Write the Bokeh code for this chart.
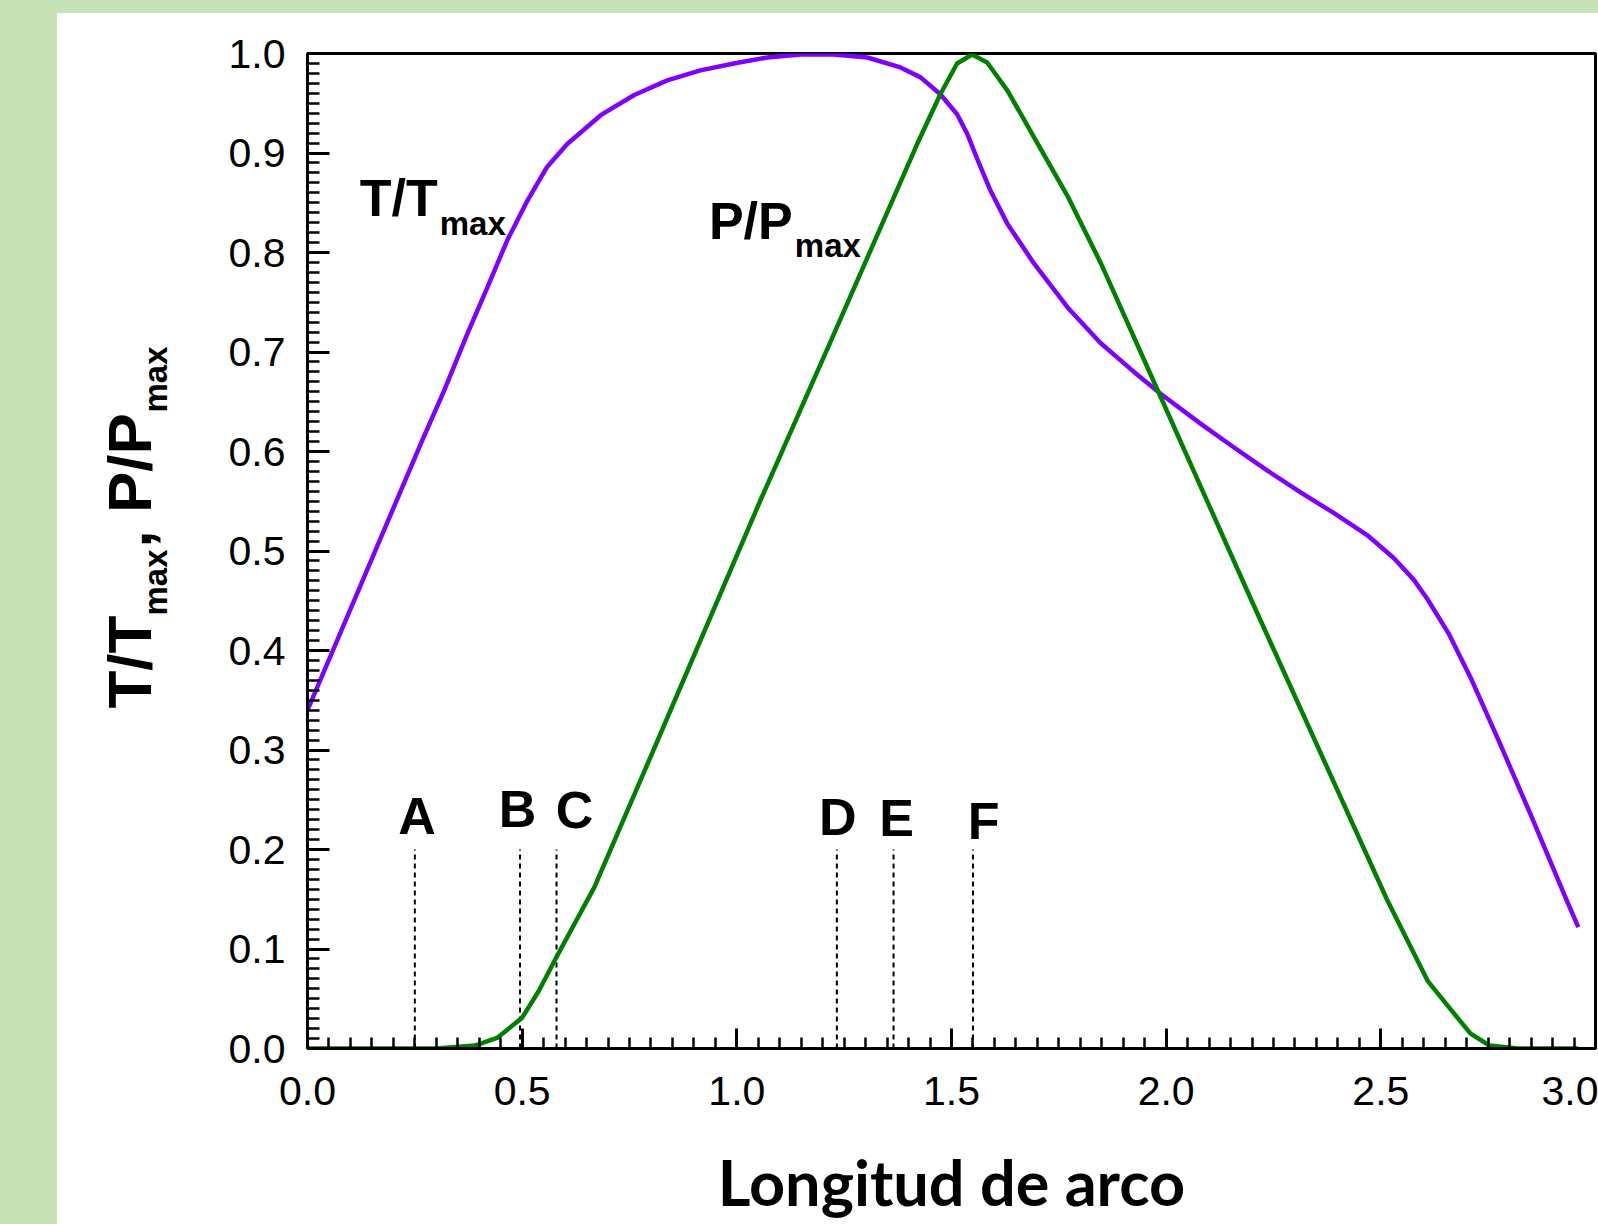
import math
from bokeh.plotting import figure
from bokeh.models import Range1d, SingleIntervalTicker, PrintfTickFormatter, Spacer
from bokeh.layouts import row, column
from bokeh.core.properties import value
from bokeh.embed import file_html
from bokeh.resources import INLINE

# ---------------- data ----------------
# T/Tmax curve (purple)
t_x = [0.000, 0.267, 0.318, 0.372, 0.419, 0.465, 0.512, 0.558, 0.605, 0.683,
       0.760, 0.838, 0.915, 0.993, 1.071, 1.148, 1.226, 1.304, 1.381, 1.428,
       1.474, 1.513, 1.537, 1.560, 1.591, 1.630, 1.692, 1.770, 1.847, 1.925,
       1.987, 2.080, 2.158, 2.235, 2.313, 2.391, 2.468, 2.530, 2.577, 2.608,
       2.658, 2.712, 2.774, 2.852, 2.930, 2.960]
t_y = [0.340, 0.611, 0.661, 0.718, 0.765, 0.812, 0.852, 0.886, 0.909, 0.938,
       0.958, 0.973, 0.983, 0.990, 0.996, 0.999, 0.999, 0.996, 0.986, 0.976,
       0.959, 0.939, 0.919, 0.894, 0.862, 0.829, 0.789, 0.745, 0.709, 0.680,
       0.658, 0.628, 0.604, 0.581, 0.559, 0.538, 0.516, 0.493, 0.471, 0.452,
       0.417, 0.370, 0.310, 0.232, 0.152, 0.122]

# P/Pmax curve (green)
p_x = [0.000, 0.300, 0.390, 0.443, 0.500, 0.539, 0.580, 0.668, 0.806, 1.055,
       1.226, 1.420, 1.474, 1.513, 1.548, 1.583, 1.630, 1.692, 1.770, 1.847,
       1.987, 2.197, 2.514, 2.609, 2.665, 2.709, 2.753, 2.820, 2.960]
p_y = [0.000, 0.000, 0.003, 0.011, 0.031, 0.058, 0.092, 0.162, 0.300, 0.551,
       0.718, 0.909, 0.959, 0.990, 0.999, 0.991, 0.963, 0.916, 0.857, 0.790,
       0.655, 0.452, 0.150, 0.068, 0.038, 0.015, 0.003, 0.000, 0.000]

# marked stations along the arc
marker_names = ["A", "B", "C", "D", "E", "F"]
marker_x = [0.250, 0.495, 0.580, 1.233, 1.365, 1.550]
marker_bottom = [0.0, 0.0, 0.0, 0.0, 0.0, 0.0]
marker_top = [0.2, 0.2, 0.2, 0.2, 0.2, 0.2]

x_label = "Longitud de arco"
y_title_main = ["T/T", ", P/P"]
y_title_sub = ["max", "max"]

# ---------------- styling / placement ----------------
GREEN_BG = "#C8E2B8"
PURPLE = "#8000FF"
GREEN = "#008000"
FONT = "Liberation Sans"
BORDER_TOP, BORDER_BOTTOM = 40, 176
FRAME_H = 1211 - BORDER_TOP - BORDER_BOTTOM

# ---- left panel holding the rotated y-axis title (pixel coordinates) ----
TW = 150
tfig = figure(width=TW, height=1211,
              x_range=Range1d(0, TW), y_range=Range1d(0, FRAME_H),
              output_backend="svg", toolbar_location=None,
              x_axis_type=None, y_axis_type=None,
              min_border_left=0, min_border_right=0,
              min_border_top=BORDER_TOP, min_border_bottom=BORDER_BOTTOM)
tfig.grid.visible = False
tfig.outline_line_color = None
tfig.background_fill_color = "white"
tfig.border_fill_color = "white"
tfig.text(x=[72, 72], y=[340, 501], text=y_title_main, angle=math.pi / 2,
          text_font=value(FONT), text_font_style="bold", text_font_size="62px",
          text_align="left", text_baseline="alphabetic", text_color="black")
tfig.text(x=[98, 98], y=[433, 636], text=y_title_sub, angle=math.pi / 2,
          text_font=value(FONT), text_font_style="bold", text_font_size="33px",
          text_align="left", text_baseline="alphabetic", text_color="black")

# ---- main chart ----
p = figure(width=1541 - TW, height=1211,
           x_range=Range1d(0, 3.0), y_range=Range1d(0, 1.0),
           output_backend="svg", toolbar_location=None,
           min_border_left=250 - TW, min_border_right=3,
           min_border_top=BORDER_TOP, min_border_bottom=BORDER_BOTTOM)
p.grid.visible = False
p.outline_line_color = "black"
p.outline_line_width = 3
p.background_fill_color = "white"
p.border_fill_color = "white"

p.xaxis.ticker = SingleIntervalTicker(interval=0.5, num_minor_ticks=10)
p.yaxis.ticker = SingleIntervalTicker(interval=0.1, num_minor_ticks=10)
for ax in (p.xaxis[0], p.yaxis[0]):
    ax.formatter = PrintfTickFormatter(format="%.1f")
    ax.axis_line_color = "black"
    ax.axis_line_width = 3
    ax.major_tick_line_color = "black"
    ax.minor_tick_line_color = "black"
    ax.major_tick_line_width = 3
    ax.minor_tick_line_width = 2.5
    ax.major_tick_out = 0
    ax.minor_tick_out = 0
    ax.major_label_text_font = FONT
    ax.major_label_text_font_size = "41px"
    ax.major_label_text_color = "black"

p.xaxis.major_tick_in = 20
p.xaxis.minor_tick_in = 11
p.yaxis.major_tick_in = 22
p.yaxis.minor_tick_in = 12
p.xaxis.major_label_standoff = 28
p.yaxis.major_label_standoff = 22

p.xaxis.axis_label = x_label
p.xaxis.axis_label_text_font = "Lato"
p.xaxis.axis_label_text_font_style = "bold"
p.xaxis.axis_label_text_font_size = "63px"
p.xaxis.axis_label_text_color = "black"
p.xaxis.axis_label_standoff = 36

# dashed station lines
p.segment(x0=marker_x, y0=marker_bottom, x1=marker_x, y1=marker_top,
          line_color="black", line_width=2, line_dash="5 4")

# curves
p.line(t_x, t_y, line_color=PURPLE, line_width=4.5, line_join="round")
p.line(p_x, p_y, line_color=GREEN, line_width=4.5, line_join="round")

# station letters
letter_x = [0.255, 0.489, 0.622, 1.235, 1.372, 1.575]
letter_y = [0.234, 0.241, 0.240, 0.233, 0.232, 0.229]
p.text(x=letter_x, y=letter_y, text=marker_names,
       text_font=value(FONT), text_font_style="bold",
       text_font_size="52px", text_align="center",
       text_baseline="alphabetic", text_color="black")

# curve labels with subscript
p.text(x=[0.1218, 0.935], y=[0.855, 0.832], text=["T/T", "P/P"],
       text_font=value(FONT), text_font_style="bold",
       text_font_size="52px", text_align="left",
       text_baseline="alphabetic", text_color="black")
p.text(x=[0.308, 1.135], y=[0.829, 0.807], text=["max", "max"],
       text_font=value(FONT), text_font_style="bold",
       text_font_size="33px", text_align="left",
       text_baseline="alphabetic", text_color="black")

top_strip = Spacer(width=1598, height=13, styles={"background-color": GREEN_BG})
left_strip = Spacer(width=57, height=1211, styles={"background-color": GREEN_BG})
layout = column(top_strip, row(left_strip, tfig, p))

open("out.html", "w").write(file_html(layout, INLINE, title="T/Tmax, P/Pmax"))
